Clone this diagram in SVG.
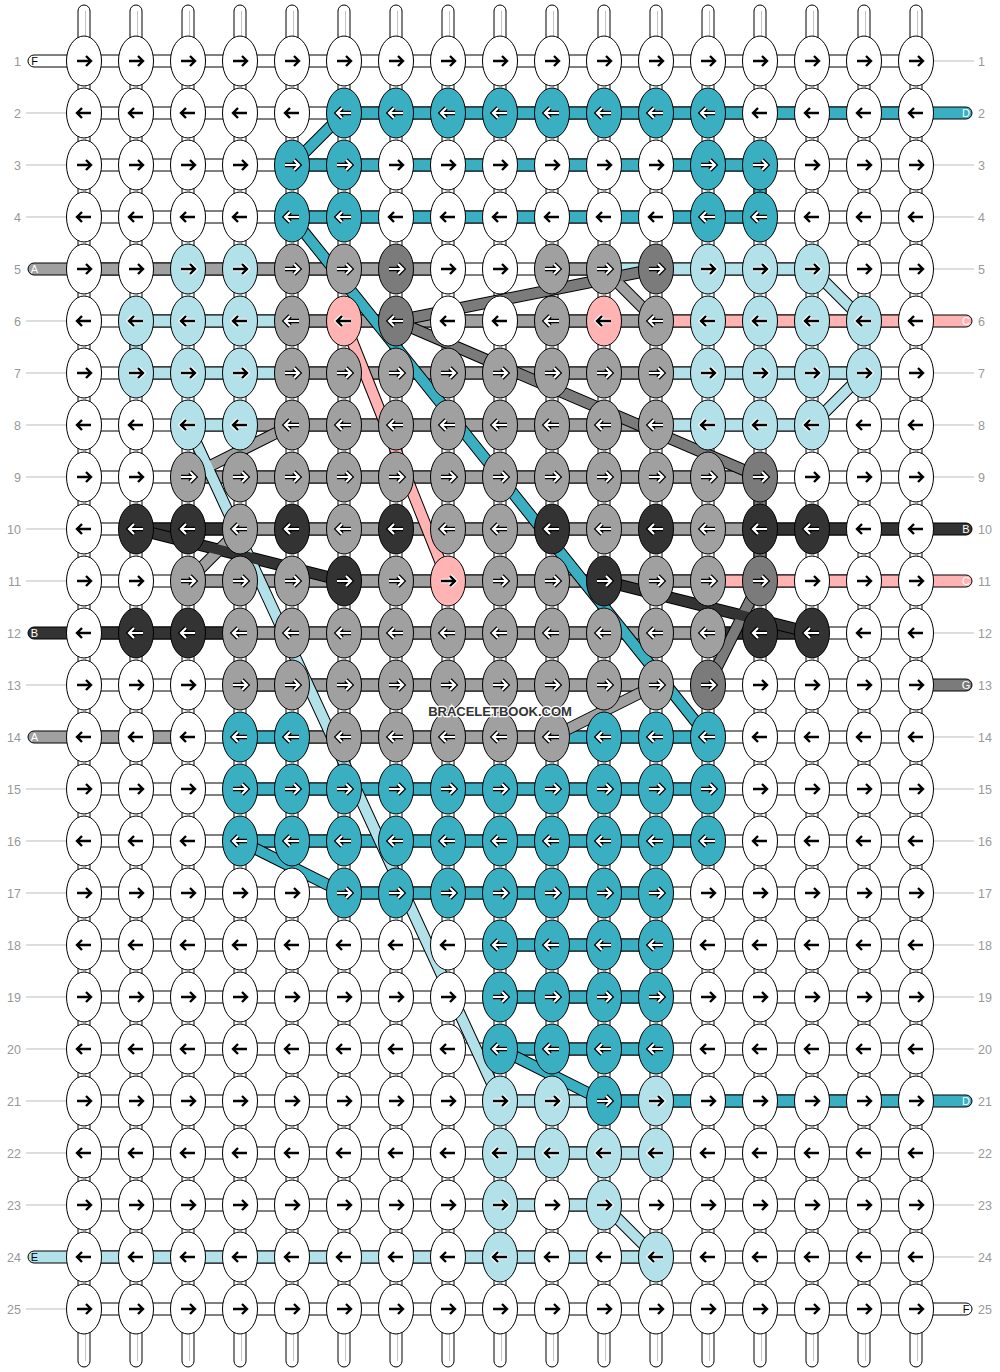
<svg xmlns="http://www.w3.org/2000/svg" xmlns:xlink="http://www.w3.org/1999/xlink" width="1000" height="1372" viewBox="0 0 1000 1372">
<style>
.vt{fill:#fff;stroke:#000;stroke-width:1}
.vl{stroke:#c4c4c4;stroke-width:1}
.ht{fill:#fff;stroke:#000;stroke-width:1}
.sp{stroke:#000;stroke-width:1}
.ab{stroke:#000;stroke-width:2.4;fill:none}
.ao{stroke:#000;stroke-width:4.6;fill:none}
.aw{stroke:#fff;stroke-width:2.2;fill:none}
.ah{stroke:#fff;stroke-width:4.6;fill:none}
.num{font-family:"Liberation Sans",Arial,sans-serif;font-size:12.5px;fill:#999}
.ll{stroke:#bbb;stroke-width:1}
.lt{font-family:"Liberation Sans",Arial,sans-serif;font-size:11px}
.co{stroke:#000;stroke-width:12;fill:none}
.ci{stroke-width:10;fill:none}
.wm{font-family:"Liberation Sans",Arial,sans-serif;font-size:13px;font-weight:bold;fill:#333;stroke:#fff;stroke-width:2.5;paint-order:stroke;text-anchor:middle}
</style>
<defs>
<path id="ar" d="M-7,0H7M2,-5L7,0L2,5"/>
<path id="al" d="M7,0H-7M-2,-5L-7,0L-2,5"/>
<ellipse id="e" rx="17.5" ry="25" stroke="#000" stroke-width="1"/>
<g id="WR"><use href="#e" fill="#fff"/><use href="#ar" class="ab"/></g>
<g id="WL"><use href="#e" fill="#fff"/><use href="#al" class="ab"/></g>
<g id="LR"><use href="#e" fill="#b3e1ea"/><use href="#ar" class="ah"/><use href="#ar" class="ab"/></g>
<g id="LL"><use href="#e" fill="#b3e1ea"/><use href="#al" class="ah"/><use href="#al" class="ab"/></g>
<g id="PR"><use href="#e" fill="#ffb3b3"/><use href="#ar" class="ah"/><use href="#ar" class="ab"/></g>
<g id="PL"><use href="#e" fill="#ffb3b3"/><use href="#al" class="ah"/><use href="#al" class="ab"/></g>
<g id="TR"><use href="#e" fill="#3aafc2"/><use href="#ar" class="ao"/><use href="#ar" class="aw"/></g>
<g id="TL"><use href="#e" fill="#3aafc2"/><use href="#al" class="ao"/><use href="#al" class="aw"/></g>
<g id="GR"><use href="#e" fill="#a0a0a0"/><use href="#ar" class="ao"/><use href="#ar" class="aw"/></g>
<g id="GL"><use href="#e" fill="#a0a0a0"/><use href="#al" class="ao"/><use href="#al" class="aw"/></g>
<g id="DR"><use href="#e" fill="#7b7b7b"/><use href="#ar" class="ao"/><use href="#ar" class="aw"/></g>
<g id="DL"><use href="#e" fill="#7b7b7b"/><use href="#al" class="ao"/><use href="#al" class="aw"/></g>
<g id="KR"><use href="#e" fill="#333333"/><use href="#ar" class="ao"/><use href="#ar" class="aw"/></g>
<g id="KL"><use href="#e" fill="#333333"/><use href="#al" class="ao"/><use href="#al" class="aw"/></g>
</defs>
<rect width="1000" height="1372" fill="#fff"/>
<g id="warps">
<rect class="vt" x="78" y="5" width="12" height="1362" rx="6"/><rect class="vt" x="130" y="5" width="12" height="1362" rx="6"/><rect class="vt" x="182" y="5" width="12" height="1362" rx="6"/><rect class="vt" x="234" y="5" width="12" height="1362" rx="6"/><rect class="vt" x="286" y="5" width="12" height="1362" rx="6"/><rect class="vt" x="338" y="5" width="12" height="1362" rx="6"/><rect class="vt" x="390" y="5" width="12" height="1362" rx="6"/><rect class="vt" x="442" y="5" width="12" height="1362" rx="6"/><rect class="vt" x="494" y="5" width="12" height="1362" rx="6"/><rect class="vt" x="546" y="5" width="12" height="1362" rx="6"/><rect class="vt" x="598" y="5" width="12" height="1362" rx="6"/><rect class="vt" x="650" y="5" width="12" height="1362" rx="6"/><rect class="vt" x="702" y="5" width="12" height="1362" rx="6"/><rect class="vt" x="754" y="5" width="12" height="1362" rx="6"/><rect class="vt" x="806" y="5" width="12" height="1362" rx="6"/><rect class="vt" x="858" y="5" width="12" height="1362" rx="6"/><rect class="vt" x="910" y="5" width="12" height="1362" rx="6"/>
<path class="vl" d="M85.5,11V1361M137.5,11V1361M189.5,11V1361M241.5,11V1361M293.5,11V1361M345.5,11V1361M397.5,11V1361M449.5,11V1361M501.5,11V1361M553.5,11V1361M605.5,11V1361M657.5,11V1361M709.5,11V1361M761.5,11V1361M813.5,11V1361M865.5,11V1361M917.5,11V1361"/>
<rect class="sp" x="130" y="339" width="12" height="16" fill="#b3e1ea"/>
<rect class="sp" x="754" y="183" width="12" height="16" fill="#3aafc2"/>
<rect class="sp" x="754" y="495" width="12" height="16" fill="#7b7b7b"/>
<rect class="sp" x="754" y="547" width="12" height="16" fill="#7b7b7b"/>
</g>
<g id="wefts">
<rect class="ht" x="84" y="55" width="832" height="12"/><rect class="ht" x="84" y="107" width="832" height="12"/><rect class="ht" x="84" y="159" width="832" height="12"/><rect class="ht" x="84" y="211" width="832" height="12"/><rect class="ht" x="84" y="263" width="832" height="12"/><rect class="ht" x="84" y="315" width="832" height="12"/><rect class="ht" x="84" y="367" width="832" height="12"/><rect class="ht" x="84" y="419" width="832" height="12"/><rect class="ht" x="84" y="471" width="832" height="12"/><rect class="ht" x="84" y="523" width="832" height="12"/><rect class="ht" x="84" y="575" width="832" height="12"/><rect class="ht" x="84" y="627" width="832" height="12"/><rect class="ht" x="84" y="679" width="832" height="12"/><rect class="ht" x="84" y="731" width="832" height="12"/><rect class="ht" x="84" y="783" width="832" height="12"/><rect class="ht" x="84" y="835" width="832" height="12"/><rect class="ht" x="84" y="887" width="832" height="12"/><rect class="ht" x="84" y="939" width="832" height="12"/><rect class="ht" x="84" y="991" width="832" height="12"/><rect class="ht" x="84" y="1043" width="832" height="12"/><rect class="ht" x="84" y="1095" width="832" height="12"/><rect class="ht" x="84" y="1147" width="832" height="12"/><rect class="ht" x="84" y="1199" width="832" height="12"/><rect class="ht" x="84" y="1251" width="832" height="12"/><rect class="ht" x="84" y="1303" width="832" height="12"/>
<rect class="sp" fill="#3aafc2" x="344" y="107" width="572" height="12"/>
<rect class="sp" fill="#3aafc2" x="292" y="159" width="468" height="12"/>
<rect class="sp" fill="#3aafc2" x="292" y="211" width="468" height="12"/>
<rect class="sp" fill="#a0a0a0" x="84" y="263" width="364" height="12"/>
<rect class="sp" fill="#a0a0a0" x="552" y="263" width="52" height="12"/>
<rect class="sp" fill="#b3e1ea" x="604" y="263" width="208" height="12"/>
<rect class="sp" fill="#b3e1ea" x="136" y="315" width="156" height="12"/>
<rect class="sp" fill="#a0a0a0" x="292" y="315" width="364" height="12"/>
<rect class="sp" fill="#ffb3b3" x="656" y="315" width="260" height="12"/>
<rect class="sp" fill="#b3e1ea" x="136" y="367" width="156" height="12"/>
<rect class="sp" fill="#a0a0a0" x="292" y="367" width="364" height="12"/>
<rect class="sp" fill="#b3e1ea" x="656" y="367" width="208" height="12"/>
<rect class="sp" fill="#b3e1ea" x="188" y="419" width="52" height="12"/>
<rect class="sp" fill="#a0a0a0" x="240" y="419" width="416" height="12"/>
<rect class="sp" fill="#b3e1ea" x="656" y="419" width="156" height="12"/>
<rect class="sp" fill="#a0a0a0" x="188" y="471" width="572" height="12"/>
<rect class="sp" fill="#333333" x="136" y="523" width="104" height="12"/>
<rect class="sp" fill="#a0a0a0" x="240" y="523" width="520" height="12"/>
<rect class="sp" fill="#333333" x="760" y="523" width="156" height="12"/>
<rect class="sp" fill="#a0a0a0" x="188" y="575" width="520" height="12"/>
<rect class="sp" fill="#ffb3b3" x="708" y="575" width="208" height="12"/>
<rect class="sp" fill="#333333" x="84" y="627" width="156" height="12"/>
<rect class="sp" fill="#a0a0a0" x="240" y="627" width="468" height="12"/>
<rect class="sp" fill="#333333" x="708" y="627" width="104" height="12"/>
<rect class="sp" fill="#a0a0a0" x="240" y="679" width="416" height="12"/>
<rect class="sp" fill="#a0a0a0" x="84" y="731" width="104" height="12"/>
<rect class="sp" fill="#3aafc2" x="240" y="731" width="52" height="12"/>
<rect class="sp" fill="#a0a0a0" x="292" y="731" width="260" height="12"/>
<rect class="sp" fill="#3aafc2" x="552" y="731" width="156" height="12"/>
<rect class="sp" fill="#3aafc2" x="240" y="783" width="468" height="12"/>
<rect class="sp" fill="#3aafc2" x="240" y="835" width="468" height="12"/>
<rect class="sp" fill="#3aafc2" x="344" y="887" width="312" height="12"/>
<rect class="sp" fill="#3aafc2" x="500" y="939" width="156" height="12"/>
<rect class="sp" fill="#3aafc2" x="500" y="991" width="156" height="12"/>
<rect class="sp" fill="#3aafc2" x="500" y="1043" width="156" height="12"/>
<rect class="sp" fill="#b3e1ea" x="500" y="1095" width="104" height="12"/>
<rect class="sp" fill="#3aafc2" x="604" y="1095" width="312" height="12"/>
<rect class="sp" fill="#b3e1ea" x="500" y="1147" width="156" height="12"/>
<rect class="sp" fill="#b3e1ea" x="500" y="1199" width="104" height="12"/>
<rect class="sp" fill="#b3e1ea" x="84" y="1251" width="572" height="12"/>
</g>
<g id="leads">
<rect class="sp" fill="#fff" x="28" y="55" width="56" height="12" rx="6"/><text class="lt" x="34.5" y="65" text-anchor="middle" fill="#000">F</text>
<rect class="sp" fill="#a0a0a0" x="28" y="263" width="56" height="12" rx="6"/><text class="lt" x="34.5" y="273" text-anchor="middle" fill="#fff">A</text>
<rect class="sp" fill="#333333" x="28" y="627" width="56" height="12" rx="6"/><text class="lt" x="34.5" y="637" text-anchor="middle" fill="#fff">B</text>
<rect class="sp" fill="#a0a0a0" x="28" y="731" width="56" height="12" rx="6"/><text class="lt" x="34.5" y="741" text-anchor="middle" fill="#fff">A</text>
<rect class="sp" fill="#b3e1ea" x="28" y="1251" width="56" height="12" rx="6"/><text class="lt" x="34.5" y="1261" text-anchor="middle" fill="#000">E</text>
<rect class="sp" fill="#3aafc2" x="916" y="107" width="56" height="12" rx="6"/><text class="lt" x="966" y="117" text-anchor="middle" fill="#fff">D</text>
<rect class="sp" fill="#ffb3b3" x="916" y="315" width="56" height="12" rx="6"/><text class="lt" x="966" y="325" text-anchor="middle" fill="#fff">C</text>
<rect class="sp" fill="#333333" x="916" y="523" width="56" height="12" rx="6"/><text class="lt" x="966" y="533" text-anchor="middle" fill="#fff">B</text>
<rect class="sp" fill="#ffb3b3" x="916" y="575" width="56" height="12" rx="6"/><text class="lt" x="966" y="585" text-anchor="middle" fill="#fff">C</text>
<rect class="sp" fill="#7b7b7b" x="916" y="679" width="56" height="12" rx="6"/><text class="lt" x="966" y="689" text-anchor="middle" fill="#fff">G</text>
<rect class="sp" fill="#3aafc2" x="916" y="1095" width="56" height="12" rx="6"/><text class="lt" x="966" y="1105" text-anchor="middle" fill="#fff">D</text>
<rect class="sp" fill="#fff" x="916" y="1303" width="56" height="12" rx="6"/><text class="lt" x="966" y="1313" text-anchor="middle" fill="#000">F</text>
<path class="ll" d="M26,113H66M26,165H66M26,217H66M26,321H66M26,373H66M26,425H66M26,477H66M26,529H66M26,581H66M26,685H66M26,789H66M26,841H66M26,893H66M26,945H66M26,997H66M26,1049H66M26,1101H66M26,1153H66M26,1205H66M26,1309H66"/>
<path class="ll" d="M934,61H974M934,165H974M934,217H974M934,269H974M934,373H974M934,425H974M934,477H974M934,633H974M934,737H974M934,789H974M934,841H974M934,893H974M934,945H974M934,997H974M934,1049H974M934,1153H974M934,1205H974M934,1257H974"/>
</g>
<g id="connectors">
<path class="co" d="M344,113L292,165M292,217L708,737M604,269L656,321M396,321L656,269M396,321L760,477M812,269L864,321M864,373L812,425M188,425L500,1101M292,425L188,477M240,529L188,581M136,529L344,581M344,321L448,581M604,581L812,633M760,581L708,685M656,685L552,737M240,841L344,893M500,1049L604,1101M604,1205L656,1257"/>
<path class="ci" stroke="#3aafc2" d="M344,113L292,165M292,217L708,737M240,841L344,893M500,1049L604,1101"/>
<path class="ci" stroke="#a0a0a0" d="M604,269L656,321M292,425L188,477M240,529L188,581M656,685L552,737"/>
<path class="ci" stroke="#7b7b7b" d="M396,321L656,269M396,321L760,477M760,581L708,685"/>
<path class="ci" stroke="#b3e1ea" d="M812,269L864,321M864,373L812,425M188,425L500,1101M604,1205L656,1257"/>
<path class="ci" stroke="#333333" d="M136,529L344,581M604,581L812,633"/>
<path class="ci" stroke="#ffb3b3" d="M344,321L448,581"/>
</g>
<g id="knots">
<g id="row1" transform="translate(0,61)"><g id="k1-1"><use href="#WR" x="84"/></g><g id="k1-2"><use href="#WR" x="136"/></g><g id="k1-3"><use href="#WR" x="188"/></g><g id="k1-4"><use href="#WR" x="240"/></g><g id="k1-5"><use href="#WR" x="292"/></g><g id="k1-6"><use href="#WR" x="344"/></g><g id="k1-7"><use href="#WR" x="396"/></g><g id="k1-8"><use href="#WR" x="448"/></g><g id="k1-9"><use href="#WR" x="500"/></g><g id="k1-10"><use href="#WR" x="552"/></g><g id="k1-11"><use href="#WR" x="604"/></g><g id="k1-12"><use href="#WR" x="656"/></g><g id="k1-13"><use href="#WR" x="708"/></g><g id="k1-14"><use href="#WR" x="760"/></g><g id="k1-15"><use href="#WR" x="812"/></g><g id="k1-16"><use href="#WR" x="864"/></g><g id="k1-17"><use href="#WR" x="916"/></g></g>
<g id="row2" transform="translate(0,113)"><g id="k2-1"><use href="#WL" x="84"/></g><g id="k2-2"><use href="#WL" x="136"/></g><g id="k2-3"><use href="#WL" x="188"/></g><g id="k2-4"><use href="#WL" x="240"/></g><g id="k2-5"><use href="#WL" x="292"/></g><g id="k2-6"><use href="#TL" x="344"/></g><g id="k2-7"><use href="#TL" x="396"/></g><g id="k2-8"><use href="#TL" x="448"/></g><g id="k2-9"><use href="#TL" x="500"/></g><g id="k2-10"><use href="#TL" x="552"/></g><g id="k2-11"><use href="#TL" x="604"/></g><g id="k2-12"><use href="#TL" x="656"/></g><g id="k2-13"><use href="#TL" x="708"/></g><g id="k2-14"><use href="#WL" x="760"/></g><g id="k2-15"><use href="#WL" x="812"/></g><g id="k2-16"><use href="#WL" x="864"/></g><g id="k2-17"><use href="#WL" x="916"/></g></g>
<g id="row3" transform="translate(0,165)"><g id="k3-1"><use href="#WR" x="84"/></g><g id="k3-2"><use href="#WR" x="136"/></g><g id="k3-3"><use href="#WR" x="188"/></g><g id="k3-4"><use href="#WR" x="240"/></g><g id="k3-5"><use href="#TR" x="292"/></g><g id="k3-6"><use href="#TR" x="344"/></g><g id="k3-7"><use href="#WR" x="396"/></g><g id="k3-8"><use href="#WR" x="448"/></g><g id="k3-9"><use href="#WR" x="500"/></g><g id="k3-10"><use href="#WR" x="552"/></g><g id="k3-11"><use href="#WR" x="604"/></g><g id="k3-12"><use href="#WR" x="656"/></g><g id="k3-13"><use href="#TR" x="708"/></g><g id="k3-14"><use href="#TR" x="760"/></g><g id="k3-15"><use href="#WR" x="812"/></g><g id="k3-16"><use href="#WR" x="864"/></g><g id="k3-17"><use href="#WR" x="916"/></g></g>
<g id="row4" transform="translate(0,217)"><g id="k4-1"><use href="#WL" x="84"/></g><g id="k4-2"><use href="#WL" x="136"/></g><g id="k4-3"><use href="#WL" x="188"/></g><g id="k4-4"><use href="#WL" x="240"/></g><g id="k4-5"><use href="#TL" x="292"/></g><g id="k4-6"><use href="#TL" x="344"/></g><g id="k4-7"><use href="#WL" x="396"/></g><g id="k4-8"><use href="#WL" x="448"/></g><g id="k4-9"><use href="#WL" x="500"/></g><g id="k4-10"><use href="#WL" x="552"/></g><g id="k4-11"><use href="#WL" x="604"/></g><g id="k4-12"><use href="#WL" x="656"/></g><g id="k4-13"><use href="#TL" x="708"/></g><g id="k4-14"><use href="#TL" x="760"/></g><g id="k4-15"><use href="#WL" x="812"/></g><g id="k4-16"><use href="#WL" x="864"/></g><g id="k4-17"><use href="#WL" x="916"/></g></g>
<g id="row5" transform="translate(0,269)"><g id="k5-1"><use href="#WR" x="84"/></g><g id="k5-2"><use href="#WR" x="136"/></g><g id="k5-3"><use href="#LR" x="188"/></g><g id="k5-4"><use href="#LR" x="240"/></g><g id="k5-5"><use href="#GR" x="292"/></g><g id="k5-6"><use href="#GR" x="344"/></g><g id="k5-7"><use href="#DR" x="396"/></g><g id="k5-8"><use href="#WR" x="448"/></g><g id="k5-9"><use href="#WR" x="500"/></g><g id="k5-10"><use href="#GR" x="552"/></g><g id="k5-11"><use href="#GR" x="604"/></g><g id="k5-12"><use href="#DR" x="656"/></g><g id="k5-13"><use href="#LR" x="708"/></g><g id="k5-14"><use href="#LR" x="760"/></g><g id="k5-15"><use href="#LR" x="812"/></g><g id="k5-16"><use href="#WR" x="864"/></g><g id="k5-17"><use href="#WR" x="916"/></g></g>
<g id="row6" transform="translate(0,321)"><g id="k6-1"><use href="#WL" x="84"/></g><g id="k6-2"><use href="#LL" x="136"/></g><g id="k6-3"><use href="#LL" x="188"/></g><g id="k6-4"><use href="#LL" x="240"/></g><g id="k6-5"><use href="#GL" x="292"/></g><g id="k6-6"><use href="#PL" x="344"/></g><g id="k6-7"><use href="#DL" x="396"/></g><g id="k6-8"><use href="#WL" x="448"/></g><g id="k6-9"><use href="#WL" x="500"/></g><g id="k6-10"><use href="#GL" x="552"/></g><g id="k6-11"><use href="#PL" x="604"/></g><g id="k6-12"><use href="#GL" x="656"/></g><g id="k6-13"><use href="#LL" x="708"/></g><g id="k6-14"><use href="#LL" x="760"/></g><g id="k6-15"><use href="#LL" x="812"/></g><g id="k6-16"><use href="#LL" x="864"/></g><g id="k6-17"><use href="#WL" x="916"/></g></g>
<g id="row7" transform="translate(0,373)"><g id="k7-1"><use href="#WR" x="84"/></g><g id="k7-2"><use href="#LR" x="136"/></g><g id="k7-3"><use href="#LR" x="188"/></g><g id="k7-4"><use href="#LR" x="240"/></g><g id="k7-5"><use href="#GR" x="292"/></g><g id="k7-6"><use href="#GR" x="344"/></g><g id="k7-7"><use href="#GR" x="396"/></g><g id="k7-8"><use href="#GR" x="448"/></g><g id="k7-9"><use href="#GR" x="500"/></g><g id="k7-10"><use href="#GR" x="552"/></g><g id="k7-11"><use href="#GR" x="604"/></g><g id="k7-12"><use href="#GR" x="656"/></g><g id="k7-13"><use href="#LR" x="708"/></g><g id="k7-14"><use href="#LR" x="760"/></g><g id="k7-15"><use href="#LR" x="812"/></g><g id="k7-16"><use href="#LR" x="864"/></g><g id="k7-17"><use href="#WR" x="916"/></g></g>
<g id="row8" transform="translate(0,425)"><g id="k8-1"><use href="#WL" x="84"/></g><g id="k8-2"><use href="#WL" x="136"/></g><g id="k8-3"><use href="#LL" x="188"/></g><g id="k8-4"><use href="#LL" x="240"/></g><g id="k8-5"><use href="#GL" x="292"/></g><g id="k8-6"><use href="#GL" x="344"/></g><g id="k8-7"><use href="#GL" x="396"/></g><g id="k8-8"><use href="#GL" x="448"/></g><g id="k8-9"><use href="#GL" x="500"/></g><g id="k8-10"><use href="#GL" x="552"/></g><g id="k8-11"><use href="#GL" x="604"/></g><g id="k8-12"><use href="#GL" x="656"/></g><g id="k8-13"><use href="#LL" x="708"/></g><g id="k8-14"><use href="#LL" x="760"/></g><g id="k8-15"><use href="#LL" x="812"/></g><g id="k8-16"><use href="#WL" x="864"/></g><g id="k8-17"><use href="#WL" x="916"/></g></g>
<g id="row9" transform="translate(0,477)"><g id="k9-1"><use href="#WR" x="84"/></g><g id="k9-2"><use href="#WR" x="136"/></g><g id="k9-3"><use href="#GR" x="188"/></g><g id="k9-4"><use href="#GR" x="240"/></g><g id="k9-5"><use href="#GR" x="292"/></g><g id="k9-6"><use href="#GR" x="344"/></g><g id="k9-7"><use href="#GR" x="396"/></g><g id="k9-8"><use href="#GR" x="448"/></g><g id="k9-9"><use href="#GR" x="500"/></g><g id="k9-10"><use href="#GR" x="552"/></g><g id="k9-11"><use href="#GR" x="604"/></g><g id="k9-12"><use href="#GR" x="656"/></g><g id="k9-13"><use href="#GR" x="708"/></g><g id="k9-14"><use href="#DR" x="760"/></g><g id="k9-15"><use href="#WR" x="812"/></g><g id="k9-16"><use href="#WR" x="864"/></g><g id="k9-17"><use href="#WR" x="916"/></g></g>
<g id="row10" transform="translate(0,529)"><g id="k10-1"><use href="#WL" x="84"/></g><g id="k10-2"><use href="#KL" x="136"/></g><g id="k10-3"><use href="#KL" x="188"/></g><g id="k10-4"><use href="#GL" x="240"/></g><g id="k10-5"><use href="#KL" x="292"/></g><g id="k10-6"><use href="#GL" x="344"/></g><g id="k10-7"><use href="#KL" x="396"/></g><g id="k10-8"><use href="#GL" x="448"/></g><g id="k10-9"><use href="#GL" x="500"/></g><g id="k10-10"><use href="#KL" x="552"/></g><g id="k10-11"><use href="#GL" x="604"/></g><g id="k10-12"><use href="#KL" x="656"/></g><g id="k10-13"><use href="#GL" x="708"/></g><g id="k10-14"><use href="#KL" x="760"/></g><g id="k10-15"><use href="#KL" x="812"/></g><g id="k10-16"><use href="#WL" x="864"/></g><g id="k10-17"><use href="#WL" x="916"/></g></g>
<g id="row11" transform="translate(0,581)"><g id="k11-1"><use href="#WR" x="84"/></g><g id="k11-2"><use href="#WR" x="136"/></g><g id="k11-3"><use href="#GR" x="188"/></g><g id="k11-4"><use href="#GR" x="240"/></g><g id="k11-5"><use href="#GR" x="292"/></g><g id="k11-6"><use href="#KR" x="344"/></g><g id="k11-7"><use href="#GR" x="396"/></g><g id="k11-8"><use href="#PR" x="448"/></g><g id="k11-9"><use href="#GR" x="500"/></g><g id="k11-10"><use href="#GR" x="552"/></g><g id="k11-11"><use href="#KR" x="604"/></g><g id="k11-12"><use href="#GR" x="656"/></g><g id="k11-13"><use href="#GR" x="708"/></g><g id="k11-14"><use href="#DR" x="760"/></g><g id="k11-15"><use href="#WR" x="812"/></g><g id="k11-16"><use href="#WR" x="864"/></g><g id="k11-17"><use href="#WR" x="916"/></g></g>
<g id="row12" transform="translate(0,633)"><g id="k12-1"><use href="#WL" x="84"/></g><g id="k12-2"><use href="#KL" x="136"/></g><g id="k12-3"><use href="#KL" x="188"/></g><g id="k12-4"><use href="#GL" x="240"/></g><g id="k12-5"><use href="#GL" x="292"/></g><g id="k12-6"><use href="#GL" x="344"/></g><g id="k12-7"><use href="#GL" x="396"/></g><g id="k12-8"><use href="#GL" x="448"/></g><g id="k12-9"><use href="#GL" x="500"/></g><g id="k12-10"><use href="#GL" x="552"/></g><g id="k12-11"><use href="#GL" x="604"/></g><g id="k12-12"><use href="#GL" x="656"/></g><g id="k12-13"><use href="#GL" x="708"/></g><g id="k12-14"><use href="#KL" x="760"/></g><g id="k12-15"><use href="#KL" x="812"/></g><g id="k12-16"><use href="#WL" x="864"/></g><g id="k12-17"><use href="#WL" x="916"/></g></g>
<g id="row13" transform="translate(0,685)"><g id="k13-1"><use href="#WR" x="84"/></g><g id="k13-2"><use href="#WR" x="136"/></g><g id="k13-3"><use href="#WR" x="188"/></g><g id="k13-4"><use href="#GR" x="240"/></g><g id="k13-5"><use href="#GR" x="292"/></g><g id="k13-6"><use href="#GR" x="344"/></g><g id="k13-7"><use href="#GR" x="396"/></g><g id="k13-8"><use href="#GR" x="448"/></g><g id="k13-9"><use href="#GR" x="500"/></g><g id="k13-10"><use href="#GR" x="552"/></g><g id="k13-11"><use href="#GR" x="604"/></g><g id="k13-12"><use href="#GR" x="656"/></g><g id="k13-13"><use href="#DR" x="708"/></g><g id="k13-14"><use href="#WR" x="760"/></g><g id="k13-15"><use href="#WR" x="812"/></g><g id="k13-16"><use href="#WR" x="864"/></g><g id="k13-17"><use href="#WR" x="916"/></g></g>
<g id="row14" transform="translate(0,737)"><g id="k14-1"><use href="#WL" x="84"/></g><g id="k14-2"><use href="#WL" x="136"/></g><g id="k14-3"><use href="#WL" x="188"/></g><g id="k14-4"><use href="#TL" x="240"/></g><g id="k14-5"><use href="#TL" x="292"/></g><g id="k14-6"><use href="#GL" x="344"/></g><g id="k14-7"><use href="#GL" x="396"/></g><g id="k14-8"><use href="#GL" x="448"/></g><g id="k14-9"><use href="#GL" x="500"/></g><g id="k14-10"><use href="#GL" x="552"/></g><g id="k14-11"><use href="#TL" x="604"/></g><g id="k14-12"><use href="#TL" x="656"/></g><g id="k14-13"><use href="#TL" x="708"/></g><g id="k14-14"><use href="#WL" x="760"/></g><g id="k14-15"><use href="#WL" x="812"/></g><g id="k14-16"><use href="#WL" x="864"/></g><g id="k14-17"><use href="#WL" x="916"/></g></g>
<g id="row15" transform="translate(0,789)"><g id="k15-1"><use href="#WR" x="84"/></g><g id="k15-2"><use href="#WR" x="136"/></g><g id="k15-3"><use href="#WR" x="188"/></g><g id="k15-4"><use href="#TR" x="240"/></g><g id="k15-5"><use href="#TR" x="292"/></g><g id="k15-6"><use href="#TR" x="344"/></g><g id="k15-7"><use href="#TR" x="396"/></g><g id="k15-8"><use href="#TR" x="448"/></g><g id="k15-9"><use href="#TR" x="500"/></g><g id="k15-10"><use href="#TR" x="552"/></g><g id="k15-11"><use href="#TR" x="604"/></g><g id="k15-12"><use href="#TR" x="656"/></g><g id="k15-13"><use href="#TR" x="708"/></g><g id="k15-14"><use href="#WR" x="760"/></g><g id="k15-15"><use href="#WR" x="812"/></g><g id="k15-16"><use href="#WR" x="864"/></g><g id="k15-17"><use href="#WR" x="916"/></g></g>
<g id="row16" transform="translate(0,841)"><g id="k16-1"><use href="#WL" x="84"/></g><g id="k16-2"><use href="#WL" x="136"/></g><g id="k16-3"><use href="#WL" x="188"/></g><g id="k16-4"><use href="#TL" x="240"/></g><g id="k16-5"><use href="#TL" x="292"/></g><g id="k16-6"><use href="#TL" x="344"/></g><g id="k16-7"><use href="#TL" x="396"/></g><g id="k16-8"><use href="#TL" x="448"/></g><g id="k16-9"><use href="#TL" x="500"/></g><g id="k16-10"><use href="#TL" x="552"/></g><g id="k16-11"><use href="#TL" x="604"/></g><g id="k16-12"><use href="#TL" x="656"/></g><g id="k16-13"><use href="#TL" x="708"/></g><g id="k16-14"><use href="#WL" x="760"/></g><g id="k16-15"><use href="#WL" x="812"/></g><g id="k16-16"><use href="#WL" x="864"/></g><g id="k16-17"><use href="#WL" x="916"/></g></g>
<g id="row17" transform="translate(0,893)"><g id="k17-1"><use href="#WR" x="84"/></g><g id="k17-2"><use href="#WR" x="136"/></g><g id="k17-3"><use href="#WR" x="188"/></g><g id="k17-4"><use href="#WR" x="240"/></g><g id="k17-5"><use href="#WR" x="292"/></g><g id="k17-6"><use href="#TR" x="344"/></g><g id="k17-7"><use href="#TR" x="396"/></g><g id="k17-8"><use href="#TR" x="448"/></g><g id="k17-9"><use href="#TR" x="500"/></g><g id="k17-10"><use href="#TR" x="552"/></g><g id="k17-11"><use href="#TR" x="604"/></g><g id="k17-12"><use href="#TR" x="656"/></g><g id="k17-13"><use href="#WR" x="708"/></g><g id="k17-14"><use href="#WR" x="760"/></g><g id="k17-15"><use href="#WR" x="812"/></g><g id="k17-16"><use href="#WR" x="864"/></g><g id="k17-17"><use href="#WR" x="916"/></g></g>
<g id="row18" transform="translate(0,945)"><g id="k18-1"><use href="#WL" x="84"/></g><g id="k18-2"><use href="#WL" x="136"/></g><g id="k18-3"><use href="#WL" x="188"/></g><g id="k18-4"><use href="#WL" x="240"/></g><g id="k18-5"><use href="#WL" x="292"/></g><g id="k18-6"><use href="#WL" x="344"/></g><g id="k18-7"><use href="#WL" x="396"/></g><g id="k18-8"><use href="#WL" x="448"/></g><g id="k18-9"><use href="#TL" x="500"/></g><g id="k18-10"><use href="#TL" x="552"/></g><g id="k18-11"><use href="#TL" x="604"/></g><g id="k18-12"><use href="#TL" x="656"/></g><g id="k18-13"><use href="#WL" x="708"/></g><g id="k18-14"><use href="#WL" x="760"/></g><g id="k18-15"><use href="#WL" x="812"/></g><g id="k18-16"><use href="#WL" x="864"/></g><g id="k18-17"><use href="#WL" x="916"/></g></g>
<g id="row19" transform="translate(0,997)"><g id="k19-1"><use href="#WR" x="84"/></g><g id="k19-2"><use href="#WR" x="136"/></g><g id="k19-3"><use href="#WR" x="188"/></g><g id="k19-4"><use href="#WR" x="240"/></g><g id="k19-5"><use href="#WR" x="292"/></g><g id="k19-6"><use href="#WR" x="344"/></g><g id="k19-7"><use href="#WR" x="396"/></g><g id="k19-8"><use href="#WR" x="448"/></g><g id="k19-9"><use href="#TR" x="500"/></g><g id="k19-10"><use href="#TR" x="552"/></g><g id="k19-11"><use href="#TR" x="604"/></g><g id="k19-12"><use href="#TR" x="656"/></g><g id="k19-13"><use href="#WR" x="708"/></g><g id="k19-14"><use href="#WR" x="760"/></g><g id="k19-15"><use href="#WR" x="812"/></g><g id="k19-16"><use href="#WR" x="864"/></g><g id="k19-17"><use href="#WR" x="916"/></g></g>
<g id="row20" transform="translate(0,1049)"><g id="k20-1"><use href="#WL" x="84"/></g><g id="k20-2"><use href="#WL" x="136"/></g><g id="k20-3"><use href="#WL" x="188"/></g><g id="k20-4"><use href="#WL" x="240"/></g><g id="k20-5"><use href="#WL" x="292"/></g><g id="k20-6"><use href="#WL" x="344"/></g><g id="k20-7"><use href="#WL" x="396"/></g><g id="k20-8"><use href="#WL" x="448"/></g><g id="k20-9"><use href="#TL" x="500"/></g><g id="k20-10"><use href="#TL" x="552"/></g><g id="k20-11"><use href="#TL" x="604"/></g><g id="k20-12"><use href="#TL" x="656"/></g><g id="k20-13"><use href="#WL" x="708"/></g><g id="k20-14"><use href="#WL" x="760"/></g><g id="k20-15"><use href="#WL" x="812"/></g><g id="k20-16"><use href="#WL" x="864"/></g><g id="k20-17"><use href="#WL" x="916"/></g></g>
<g id="row21" transform="translate(0,1101)"><g id="k21-1"><use href="#WR" x="84"/></g><g id="k21-2"><use href="#WR" x="136"/></g><g id="k21-3"><use href="#WR" x="188"/></g><g id="k21-4"><use href="#WR" x="240"/></g><g id="k21-5"><use href="#WR" x="292"/></g><g id="k21-6"><use href="#WR" x="344"/></g><g id="k21-7"><use href="#WR" x="396"/></g><g id="k21-8"><use href="#WR" x="448"/></g><g id="k21-9"><use href="#LR" x="500"/></g><g id="k21-10"><use href="#LR" x="552"/></g><g id="k21-11"><use href="#TR" x="604"/></g><g id="k21-12"><use href="#LR" x="656"/></g><g id="k21-13"><use href="#WR" x="708"/></g><g id="k21-14"><use href="#WR" x="760"/></g><g id="k21-15"><use href="#WR" x="812"/></g><g id="k21-16"><use href="#WR" x="864"/></g><g id="k21-17"><use href="#WR" x="916"/></g></g>
<g id="row22" transform="translate(0,1153)"><g id="k22-1"><use href="#WL" x="84"/></g><g id="k22-2"><use href="#WL" x="136"/></g><g id="k22-3"><use href="#WL" x="188"/></g><g id="k22-4"><use href="#WL" x="240"/></g><g id="k22-5"><use href="#WL" x="292"/></g><g id="k22-6"><use href="#WL" x="344"/></g><g id="k22-7"><use href="#WL" x="396"/></g><g id="k22-8"><use href="#WL" x="448"/></g><g id="k22-9"><use href="#LL" x="500"/></g><g id="k22-10"><use href="#LL" x="552"/></g><g id="k22-11"><use href="#LL" x="604"/></g><g id="k22-12"><use href="#LL" x="656"/></g><g id="k22-13"><use href="#WL" x="708"/></g><g id="k22-14"><use href="#WL" x="760"/></g><g id="k22-15"><use href="#WL" x="812"/></g><g id="k22-16"><use href="#WL" x="864"/></g><g id="k22-17"><use href="#WL" x="916"/></g></g>
<g id="row23" transform="translate(0,1205)"><g id="k23-1"><use href="#WR" x="84"/></g><g id="k23-2"><use href="#WR" x="136"/></g><g id="k23-3"><use href="#WR" x="188"/></g><g id="k23-4"><use href="#WR" x="240"/></g><g id="k23-5"><use href="#WR" x="292"/></g><g id="k23-6"><use href="#WR" x="344"/></g><g id="k23-7"><use href="#WR" x="396"/></g><g id="k23-8"><use href="#WR" x="448"/></g><g id="k23-9"><use href="#LR" x="500"/></g><g id="k23-10"><use href="#WR" x="552"/></g><g id="k23-11"><use href="#LR" x="604"/></g><g id="k23-12"><use href="#WR" x="656"/></g><g id="k23-13"><use href="#WR" x="708"/></g><g id="k23-14"><use href="#WR" x="760"/></g><g id="k23-15"><use href="#WR" x="812"/></g><g id="k23-16"><use href="#WR" x="864"/></g><g id="k23-17"><use href="#WR" x="916"/></g></g>
<g id="row24" transform="translate(0,1257)"><g id="k24-1"><use href="#WL" x="84"/></g><g id="k24-2"><use href="#WL" x="136"/></g><g id="k24-3"><use href="#WL" x="188"/></g><g id="k24-4"><use href="#WL" x="240"/></g><g id="k24-5"><use href="#WL" x="292"/></g><g id="k24-6"><use href="#WL" x="344"/></g><g id="k24-7"><use href="#WL" x="396"/></g><g id="k24-8"><use href="#WL" x="448"/></g><g id="k24-9"><use href="#LL" x="500"/></g><g id="k24-10"><use href="#WL" x="552"/></g><g id="k24-11"><use href="#WL" x="604"/></g><g id="k24-12"><use href="#LL" x="656"/></g><g id="k24-13"><use href="#WL" x="708"/></g><g id="k24-14"><use href="#WL" x="760"/></g><g id="k24-15"><use href="#WL" x="812"/></g><g id="k24-16"><use href="#WL" x="864"/></g><g id="k24-17"><use href="#WL" x="916"/></g></g>
<g id="row25" transform="translate(0,1309)"><g id="k25-1"><use href="#WR" x="84"/></g><g id="k25-2"><use href="#WR" x="136"/></g><g id="k25-3"><use href="#WR" x="188"/></g><g id="k25-4"><use href="#WR" x="240"/></g><g id="k25-5"><use href="#WR" x="292"/></g><g id="k25-6"><use href="#WR" x="344"/></g><g id="k25-7"><use href="#WR" x="396"/></g><g id="k25-8"><use href="#WR" x="448"/></g><g id="k25-9"><use href="#WR" x="500"/></g><g id="k25-10"><use href="#WR" x="552"/></g><g id="k25-11"><use href="#WR" x="604"/></g><g id="k25-12"><use href="#WR" x="656"/></g><g id="k25-13"><use href="#WR" x="708"/></g><g id="k25-14"><use href="#WR" x="760"/></g><g id="k25-15"><use href="#WR" x="812"/></g><g id="k25-16"><use href="#WR" x="864"/></g><g id="k25-17"><use href="#WR" x="916"/></g></g>
</g>
<g id="row-numbers" class="num">
<g text-anchor="end"><text x="21" y="65.5">1</text><text x="21" y="117.5">2</text><text x="21" y="169.5">3</text><text x="21" y="221.5">4</text><text x="21" y="273.5">5</text><text x="21" y="325.5">6</text><text x="21" y="377.5">7</text><text x="21" y="429.5">8</text><text x="21" y="481.5">9</text><text x="21" y="533.5">10</text><text x="21" y="585.5">11</text><text x="21" y="637.5">12</text><text x="21" y="689.5">13</text><text x="21" y="741.5">14</text><text x="21" y="793.5">15</text><text x="21" y="845.5">16</text><text x="21" y="897.5">17</text><text x="21" y="949.5">18</text><text x="21" y="1001.5">19</text><text x="21" y="1053.5">20</text><text x="21" y="1105.5">21</text><text x="21" y="1157.5">22</text><text x="21" y="1209.5">23</text><text x="21" y="1261.5">24</text><text x="21" y="1313.5">25</text></g>
<g><text x="978" y="65.5">1</text><text x="978" y="117.5">2</text><text x="978" y="169.5">3</text><text x="978" y="221.5">4</text><text x="978" y="273.5">5</text><text x="978" y="325.5">6</text><text x="978" y="377.5">7</text><text x="978" y="429.5">8</text><text x="978" y="481.5">9</text><text x="978" y="533.5">10</text><text x="978" y="585.5">11</text><text x="978" y="637.5">12</text><text x="978" y="689.5">13</text><text x="978" y="741.5">14</text><text x="978" y="793.5">15</text><text x="978" y="845.5">16</text><text x="978" y="897.5">17</text><text x="978" y="949.5">18</text><text x="978" y="1001.5">19</text><text x="978" y="1053.5">20</text><text x="978" y="1105.5">21</text><text x="978" y="1157.5">22</text><text x="978" y="1209.5">23</text><text x="978" y="1261.5">24</text><text x="978" y="1313.5">25</text></g>
</g>
<text class="wm" x="500" y="716">BRACELETBOOK.COM</text>
</svg>
